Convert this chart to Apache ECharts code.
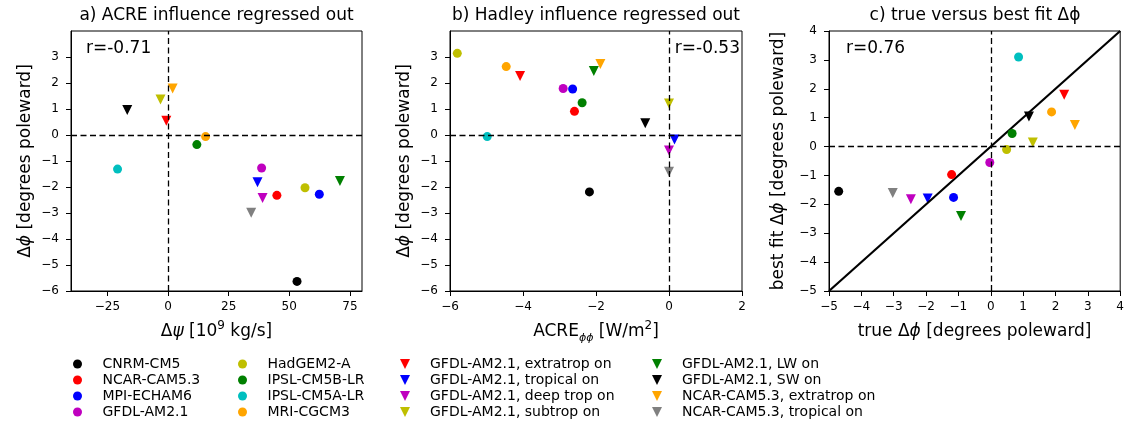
<!DOCTYPE html>
<html>
<head>
<meta charset="utf-8">
<script src="https://cdn.jsdelivr.net/npm/echarts@6/dist/echarts.min.js"></script>
<style>
  html, body { margin: 0; padding: 0; background: #fff; }
  #chart { width: 1127px; height: 425px; }
</style>
</head>
<body>
<div id="chart"></div>
<script>
// models, in legend order
const models = [
  'CNRM-CM5', 'NCAR-CAM5.3', 'MPI-ECHAM6', 'GFDL-AM2.1',
  'HadGEM2-A', 'IPSL-CM5B-LR', 'IPSL-CM5A-LR', 'MRI-CGCM3',
  'GFDL-AM2.1, extratrop on', 'GFDL-AM2.1, tropical on', 'GFDL-AM2.1, deep trop on', 'GFDL-AM2.1, subtrop on',
  'GFDL-AM2.1, LW on', 'GFDL-AM2.1, SW on', 'NCAR-CAM5.3, extratrop on', 'NCAR-CAM5.3, tropical on'
]
const colors = [
  '#000000', '#ff0000', '#0000ff', '#bf00bf', '#bfbf00', '#008000', '#00bfbf', '#ffa500',
  '#ff0000', '#0000ff', '#bf00bf', '#bfbf00', '#008000', '#000000', '#ffa500', '#808080'
]
const markers = ['o', 'o', 'o', 'o', 'o', 'o', 'o', 'o', 'v', 'v', 'v', 'v', 'v', 'v', 'v', 'v']

// a) ACRE influence regressed out
const psiA = [53.2, 44.9, 62.4, 38.6, 56.5, 11.9, -20.8, 15.5, -0.7, 36.9, 39.0, -3.1, 70.9, -16.8, 1.9, 34.3]
const phiA = [-5.63, -2.32, -2.28, -1.27, -2.03, -0.37, -1.31, -0.06, 0.55, -1.82, -2.42, 1.37, -1.77, 0.96, 1.79, -2.99]
// b) Hadley influence regressed out
const acreB = [-2.18, -2.59, -2.64, -2.90, -5.80, -2.38, -4.98, -4.46, -4.08, 0.15, 0.0, 0.0, -2.06, -0.65, -1.88, 0.0]
const phiB = [-2.19, 0.91, 1.77, 1.79, 3.14, 1.24, -0.06, 2.63, 2.27, -0.17, -0.60, 1.21, 2.46, 0.45, 2.73, -1.41]
// c) true versus best fit
const trueC = [-4.70, -1.21, -1.15, -0.03, 0.49, 0.66, 0.86, 1.88, 2.27, -1.95, -2.47, 1.30, -0.92, 1.18, 2.60, -3.03]
const fitC = [-1.55, -0.97, -1.76, -0.55, -0.10, 0.45, 3.10, 1.20, 1.79, -1.80, -1.82, 0.14, -2.40, 1.04, 0.75, -1.61]

const corr = ['r=-0.71', 'r=-0.53', 'r=0.76']

// tick labels
const psiTicks = [-25, 0, 25, 50, 75]
const acreTicks = [-6, -4, -2, 0, 2]
const phiTicks = [-6, -5, -4, -3, -2, -1, 0, 1, 2, 3]
const fitTicks = [-5, -4, -3, -2, -1, 0, 1, 2, 3, 4]

const FONT = 'DejaVu Sans'
const TRI = 'path://M0,0L2,0L1,2Z' // matplotlib 'v'

const chart = echarts.init(document.getElementById('chart'), null, { renderer: 'canvas' })

const minus = v => String(v).replace('-', '\u2212')
const nameRich = {
  t: { fontFamily: FONT, fontSize: 17, color: '#000', lineHeight: 24 },
  i: { fontFamily: FONT, fontSize: 17, color: '#000', lineHeight: 24, fontStyle: 'italic' },
  p: { fontFamily: FONT, fontSize: 12, color: '#000', lineHeight: 15, verticalAlign: 'top' },
  s: { fontFamily: FONT, fontSize: 11, color: '#000', lineHeight: 13, verticalAlign: 'bottom', fontStyle: 'italic' }
}

function makeAxis(idx, min, max, ticks, name, gap, margin) {
  return {
    type: 'value',
    gridIndex: idx,
    min: min,
    max: max,
    name: name,
    nameLocation: 'middle',
    nameGap: gap,
    nameTextStyle: { rich: nameRich },
    axisLine: { show: true, onZero: false, lineStyle: { color: '#000', width: 1 } },
    axisTick: { show: true, length: 5, customValues: ticks, lineStyle: { color: '#000' } },
    axisLabel: {
      customValues: ticks,
      formatter: minus,
      color: '#000',
      fontFamily: FONT,
      fontSize: 12,
      margin: margin
    },
    splitLine: { show: false }
  }
}

const phiName = '{t|Δ}{i|ϕ}{t| [degrees poleward]}'

const grids = [
  { left: 71, top: 31, width: 291, height: 260 },
  { left: 450, top: 31, width: 292, height: 260 },
  { left: 829, top: 31, width: 292, height: 260 }
].map(g => Object.assign(g, { show: true, borderColor: '#000', borderWidth: 1, containLabel: false }))

const xAxes = [
  makeAxis(0, -40, 80, psiTicks, '{t|Δ}{i|ψ}{t| [10}{p|9}{t| kg/s]}', 29, 10),
  makeAxis(1, -6, 2, acreTicks, '{t|ACRE}{s|ϕϕ}{t| [W/m}{p|2}{t|]}', 29, 10),
  makeAxis(2, -5, 4, fitTicks, '{t|true Δ}{i|ϕ}{t| [degrees poleward]}', 29, 10)
]
const yAxes = [
  makeAxis(0, -6, 4, phiTicks, phiName, 33, 12),
  makeAxis(1, -6, 4, phiTicks, phiName, 33, 12),
  makeAxis(2, -5, 4, fitTicks, '{t|best fit Δ}{i|ϕ}{t| [degrees poleward]}', 38, 12)
]

const panels = [[psiA, phiA], [acreB, phiB], [trueC, fitC]]
const series = []
panels.forEach((p, g) => {
  models.forEach((m, k) => {
    const tri = markers[k] === 'v'
    series.push({
      name: m,
      type: 'scatter',
      xAxisIndex: g,
      yAxisIndex: g,
      symbol: tri ? TRI : 'circle',
      symbolSize: tri ? 10 : 9,
      itemStyle: { color: colors[k], opacity: 1 },
      z: tri ? 2 : 4,
      data: [[p[0][k], p[1][k]]]
    })
  })
  // dashed zero lines
  series.push({
    type: 'line',
    xAxisIndex: g,
    yAxisIndex: g,
    data: [],
    z: 3,
    silent: true,
    markLine: {
      symbol: ['none', 'none'],
      silent: true,
      animation: false,
      label: { show: false },
      lineStyle: { color: '#000', width: 1.3, type: [6, 3.5] },
      data: [{ xAxis: 0 }, { yAxis: 0 }]
    }
  })
})
// one-to-one line in panel c
series.push({
  type: 'line',
  xAxisIndex: 2,
  yAxisIndex: 2,
  data: [[-5, -5], [4, 4]],
  symbol: 'none',
  silent: true,
  z: 3,
  lineStyle: { color: '#000', width: 2.2 }
})

function legendCol(left, names, tri) {
  return {
    orient: 'vertical',
    left: left,
    top: 356,
    padding: 0,
    itemGap: 0,
    itemWidth: 40,
    itemHeight: tri ? 10 : 9,
    selectedMode: false,
    textStyle: { fontFamily: FONT, fontSize: 14, color: '#000', lineHeight: 16 },
    data: names.map(n => ({ name: n, icon: tri ? TRI : 'circle' }))
  }
}

const titles = [
  'a) ACRE influence regressed out',
  'b) Hadley influence regressed out',
  'c) true versus best fit Δϕ'
]
const font17 = '17px "DejaVu Sans"'

chart.setOption({
  animation: false,
  grid: grids,
  xAxis: xAxes,
  yAxis: yAxes,
  legend: [
    legendCol(73, models.slice(0, 4), false),
    legendCol(238, models.slice(4, 8), false),
    legendCol(400, models.slice(8, 12), true),
    legendCol(652, models.slice(12, 16), true)
  ],
  graphic: [
    ...titles.map((t, i) => ({
      type: 'text',
      x: grids[i].left + grids[i].width / 2,
      y: 16,
      style: { text: t, font: font17, fill: '#000', align: 'center', verticalAlign: 'middle' }
    })),
    { type: 'text', x: 86, y: 49, style: { text: corr[0], font: font17, fill: '#000', verticalAlign: 'middle' } },
    { type: 'text', x: 740, y: 49, style: { text: corr[1], font: font17, fill: '#000', align: 'right', verticalAlign: 'middle' } },
    { type: 'text', x: 846, y: 49, style: { text: corr[2], font: font17, fill: '#000', verticalAlign: 'middle' } }
  ],
  series: series
})
</script>
</body>
</html>
